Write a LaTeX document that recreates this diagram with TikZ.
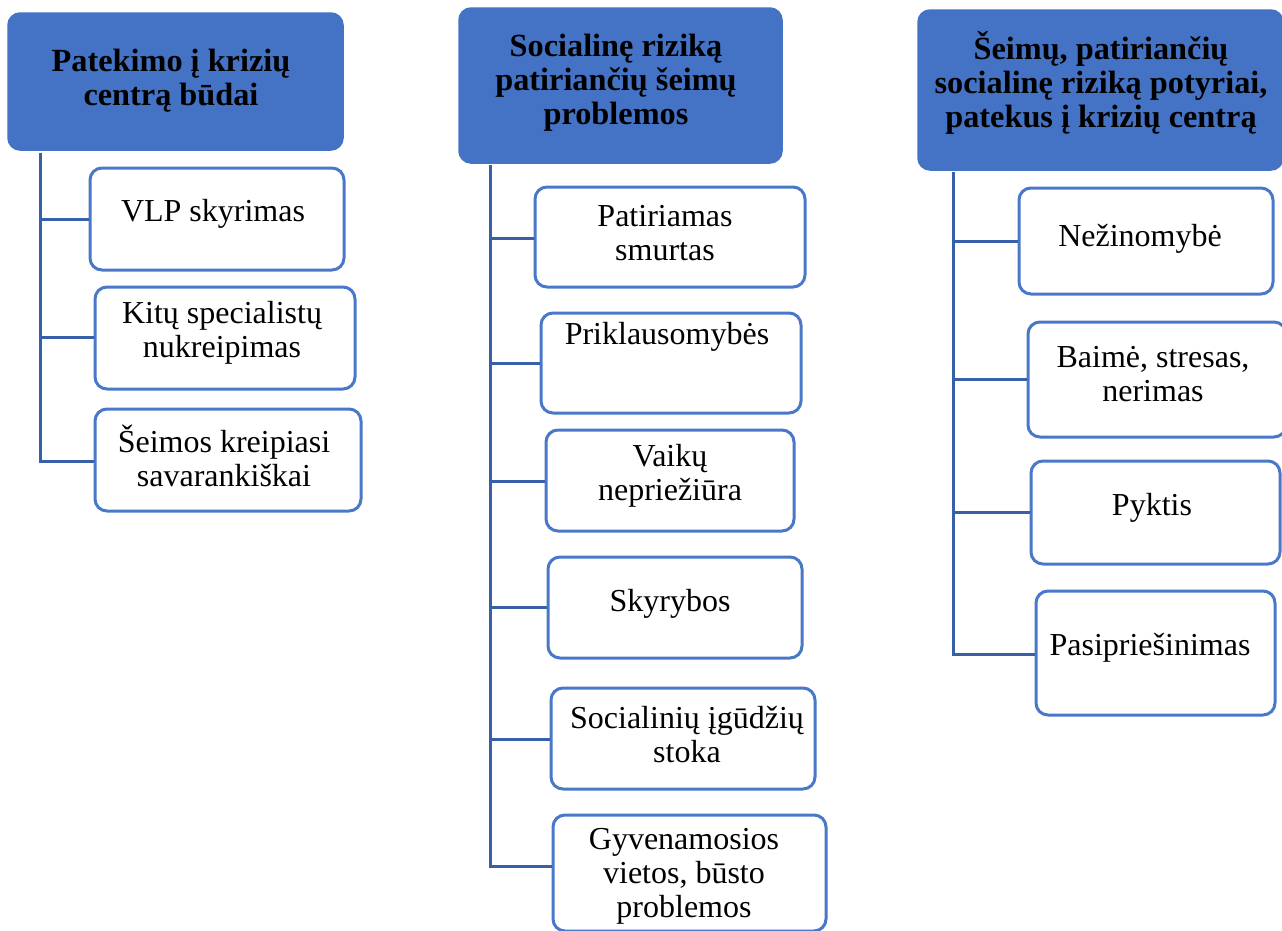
\documentclass[tikz,border=0pt]{standalone}
\usepackage{fontspec}
\setmainfont{Liberation Serif}
\definecolor{hdrblue}{HTML}{4472C4}
\definecolor{boxblue}{HTML}{4A78C8}
\definecolor{lineblue}{HTML}{3760A8}
\tikzset{
  hdrbox/.style={draw=hdrblue, fill=hdrblue, line width=1.5pt, rounded corners=12pt},
  itembox/.style={draw=boxblue, fill=white, line width=3pt, rounded corners=12pt},
  hdrtxt/.style={align=center, font=\fontsize{32.3}{34}\selectfont\bfseries, inner sep=0pt},
  itemtxt/.style={align=center, font=\fontsize{32}{34}\selectfont, inner sep=0pt},
  conn/.style={draw=lineblue, line width=3pt},
}
\begin{document}
\begin{tikzpicture}[x=1pt, y=-1pt]
\useasboundingbox[fill=white] (0,0) rectangle (1282,930);

% ---------- Left column ----------
\node[hdrbox, minimum width=335pt, minimum height=137pt] (lh) at (175.5,81.5) {};
\node[hdrtxt] (lht) at (171,81) {Patekimo į krizių\\centrą būdai};
\coordinate (lt) at (40,153);
\coordinate (lc1) at (40,219);
\coordinate (lc2) at (40,337);
\coordinate (lc3) at (40,461);
\node[itembox, minimum width=254pt, minimum height=102pt] (lb1) at (217,219) {};
\node[itembox, minimum width=260pt, minimum height=102pt] (lb2) at (225,338) {};
\node[itembox, minimum width=266pt, minimum height=102pt] (lb3) at (228,460) {};
\draw[conn] (lt) -- (lc3) -- (lb3.west |- lc3);
\draw[conn] (lc1) -- (lb1.west |- lc1);
\draw[conn] (lc2) -- (lb2.west |- lc2);
\node[itemtxt] (lt1) at (213,214) {VLP skyrimas};
\node[itemtxt] (lt2) at (222,333) {Kitų specialistų\\nukreipimas};
\node[itemtxt] (lt3) at (224,456) {Šeimos kreipiasi\\savarankiškai};

% ---------- Middle column ----------
\node[hdrbox, minimum width=323pt, minimum height=155pt] (mh) at (620.5,85.5) {};
\node[hdrtxt] (mht) at (616,83) {Socialinę riziką\\patiriančių šeimų\\problemos};
\coordinate (mt) at (490,165);
\coordinate (mc1) at (490,238);
\coordinate (mc2) at (490,363);
\coordinate (mc3) at (490,481);
\coordinate (mc4) at (490,607);
\coordinate (mc5) at (490,739);
\coordinate (mc6) at (490,866);
\node[itembox, minimum width=270pt, minimum height=100pt] (mb1) at (670,237) {};
\node[itembox, minimum width=260pt, minimum height=100pt] (mb2) at (671,363) {};
\node[itembox, minimum width=248pt, minimum height=101pt] (mb3) at (670,480.5) {};
\node[itembox, minimum width=254pt, minimum height=101pt] (mb4) at (675,607.5) {};
\node[itembox, minimum width=264pt, minimum height=101pt] (mb5) at (683,738.5) {};
\node[itembox, minimum width=273pt, minimum height=116pt] (mb6) at (689.5,873) {};
\draw[conn] (mt) -- (mc6) -- (mb6.west |- mc6);
\draw[conn] (mc1) -- (mb1.west |- mc1);
\draw[conn] (mc2) -- (mb2.west |- mc2);
\draw[conn] (mc3) -- (mb3.west |- mc3);
\draw[conn] (mc4) -- (mb4.west |- mc4);
\draw[conn] (mc5) -- (mb5.west |- mc5);
\node[itemtxt] (mt1) at (665,233) {Patiriamas\\smurtas};
\node[itemtxt] (mt2) at (667,337) {Priklausomybės};
\node[itemtxt] (mt3) at (670,476) {Vaikų\\nepriežiūra};
\node[itemtxt] (mt4) at (670,604) {Skyrybos};
\node[itemtxt] (mt5) at (687,735) {Socialinių įgūdžių\\stoka};
\node[itemtxt] (mt6) at (684,876) {Gyvenamosios\\vietos, būsto\\problemos};

% ---------- Right column ----------
\node[hdrbox, minimum width=365pt, minimum height=160pt] (rh) at (1100.5,90) {};
\node[hdrtxt] (rht) at (1101,83) {Šeimų, patiriančių\\socialinę riziką potyriai,\\patekus į krizių centrą};
\coordinate (rt) at (953,172);
\coordinate (rc1) at (953,241);
\coordinate (rc2) at (953,379);
\coordinate (rc3) at (953,512);
\coordinate (rc4) at (953,654);
\node[itembox, minimum width=254pt, minimum height=106pt] (rb1) at (1146,241) {};
\node[itembox, minimum width=258pt, minimum height=115pt] (rb2) at (1157,379.5) {};
\node[itembox, minimum width=249pt, minimum height=103pt] (rb3) at (1155.5,512.5) {};
\node[itembox, minimum width=239pt, minimum height=124pt] (rb4) at (1155.5,653) {};
\draw[conn] (rt) -- (rc4) -- (rb4.west |- rc4);
\draw[conn] (rc1) -- (rb1.west |- rc1);
\draw[conn] (rc2) -- (rb2.west |- rc2);
\draw[conn] (rc3) -- (rb3.west |- rc3);
\node[itemtxt] (rt1) at (1140,239) {Nežinomybė};
\node[itemtxt] (rt2) at (1153,374) {Baimė, stresas,\\nerimas};
\node[itemtxt] (rt3) at (1152,508) {Pyktis};
\node[itemtxt] (rt4) at (1150,648) {Pasipriešinimas};
\end{tikzpicture}
\end{document}
